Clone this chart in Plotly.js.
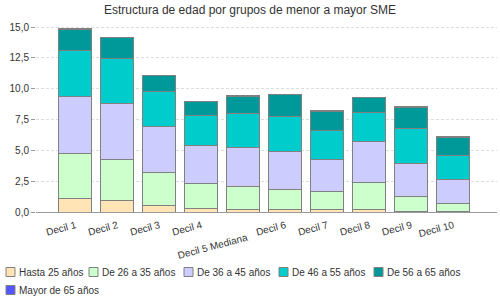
<!DOCTYPE html>
<html>
<head>
<meta charset="utf-8">
<script src="https://cdn.plot.ly/plotly-3.0.1.min.js"></script>
<style>
  html, body { margin: 0; padding: 0; background: #fff; }
  #chart { width: 500px; height: 300px; }
</style>
</head>
<body>
<div id="chart"></div>
<script>
// categories (deciles)
const deciles = ['Decil 1', 'Decil 2', 'Decil 3', 'Decil 4', 'Decil 5 Mediana',
                 'Decil 6', 'Decil 7', 'Decil 8', 'Decil 9', 'Decil 10'];
// tick labels as drawn (decil 5 pushed one line down)
const tickLabels = ['Decil 1', 'Decil 2', 'Decil 3', 'Decil 4', '<br>Decil 5 Mediana',
                    'Decil 6', 'Decil 7', 'Decil 8', 'Decil 9', 'Decil 10'];

// age groups
const hasta25   = [1.11, 0.95, 0.54, 0.30, 0.22, 0.22, 0.22, 0.22, 0.05, 0.02];
const de26a35   = [3.65, 3.33, 2.68, 2.00, 1.87, 1.57, 1.46, 2.21, 1.22, 0.70];
const de36a45   = [4.59, 4.54, 3.73, 3.08, 3.16, 3.08, 2.60, 3.30, 2.68, 1.89];
const de46a55   = [3.76, 3.62, 2.84, 2.47, 2.76, 2.90, 2.35, 2.35, 2.84, 2.00];
const de56a65   = [1.67, 1.74, 1.32, 1.14, 1.35, 1.73, 1.51, 1.22, 1.67, 1.43];
const mayor65   = [0.10, 0.00, 0.00, 0.00, 0.10, 0.05, 0.10, 0.00, 0.10, 0.10];

const seriesNames  = ['Hasta 25 años', 'De 26 a 35 años', 'De 36 a 45 años',
                      'De 46 a 55 años', 'De 56 a 65 años', 'Mayor de 65 años'];
const seriesValues = [hasta25, de26a35, de36a45, de46a55, de56a65, mayor65];
const seriesColors = ['#FFE4B5', '#CCFFCC', '#CCCCFF', '#00CCCC', '#009999', '#5555FF'];

const FONT = '"Liberation Sans", Arial, sans-serif';

// plot area in pixels
const plotL = 36, plotR = 3, plotT = 18, plotB = 88;
const plotW = 500 - plotL - plotR, plotH = 300 - plotT - plotB;
const px2x = function(px) { return (px - plotL) / plotW; };
const px2y = function(py) { return (300 - plotB - py) / plotH; };

var data = seriesNames.map(function(name, i) {
    return {
        type: 'bar',
        name: name,
        x: deciles,
        y: seriesValues[i],
        marker: { color: seriesColors[i], line: { color: '#808080', width: 1 } },
        hoverinfo: 'name+y'
    };
});

// legend drawn by hand so it wraps like the original (5 + 1)
const legendX = [6, 89, 184, 279, 374, 6];
const legendY = [272, 272, 272, 272, 272, 290];
var shapes = [], annotations = [];
seriesNames.forEach(function(name, i) {
    shapes.push({
        type: 'rect', xref: 'paper', yref: 'paper',
        x0: px2x(legendX[i]), x1: px2x(legendX[i] + 9),
        y0: px2y(legendY[i] - 4.5), y1: px2y(legendY[i] + 4.5),
        fillcolor: seriesColors[i], line: { color: '#808080', width: 1 }
    });
    annotations.push({
        xref: 'paper', yref: 'paper',
        x: px2x(legendX[i] + 11), y: px2y(legendY[i]),
        xanchor: 'left', yanchor: 'middle', showarrow: false,
        text: name, font: { family: FONT, size: 10, color: '#333' }
    });
});

const layout = {
    width: 500, height: 300,
    margin: { l: plotL, r: plotR, t: plotT, b: plotB, pad: 0 },
    paper_bgcolor: '#fff', plot_bgcolor: '#fff',
    title: {
        text: 'Estructura de edad por grupos de menor a mayor SME',
        font: { family: FONT, size: 12, color: '#333' },
        x: 0.5, xref: 'container', y: 1 - 10 / 300, yanchor: 'middle'
    },
    barmode: 'stack',
    bargap: 0.214,
    showlegend: false,
    separators: ',.',
    xaxis: {
        type: 'category',
        range: [-0.94, 10.04],
        tickvals: deciles,
        ticktext: tickLabels,
        tickangle: -15,
        ticklabelstandoff: 3,
        tickfont: { family: FONT, size: 10, color: '#333' },
        showline: true, linecolor: '#999', linewidth: 1,
        ticks: '', showgrid: false, zeroline: false
    },
    yaxis: {
        range: [0, plotH / 12.33],
        tickvals: [0, 2.5, 5, 7.5, 10, 12.5, 15],
        tickformat: '.1f',
        tickfont: { family: FONT, size: 10, color: '#333' },
        ticks: 'outside', ticklen: 4, tickcolor: '#999',
        showline: false, zeroline: false,
        showgrid: true, gridcolor: '#dcdcdc', gridwidth: 1, griddash: '3px,2px'
    },
    shapes: shapes,
    annotations: annotations
};

Plotly.newPlot('chart', data, layout, { displayModeBar: false, staticPlot: true });
</script>
</body>
</html>
